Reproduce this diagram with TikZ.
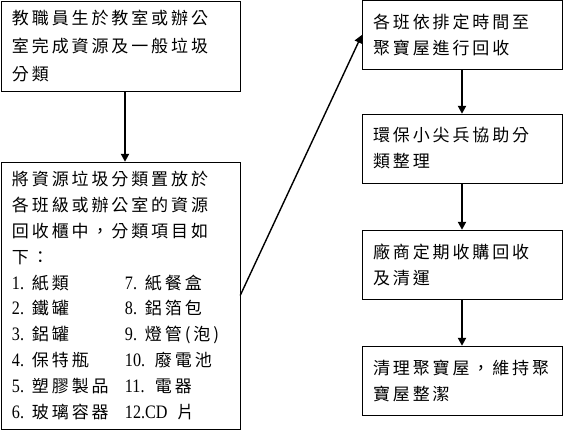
\documentclass[tikz,border=0pt]{standalone}
\usepackage{fontspec}
\setmainfont{Liberation Serif}
\newfontfamily\cjk{Noto Sans CJK TC}[LetterSpace=17]
\newfontfamily\digits{Liberation Serif}[FakeStretch=0.85]
\usetikzlibrary{arrows.meta}

\newcommand{\num}[2][20pt]{\makebox[#1][l]{\digits\fontsize{19}{25.8}\selectfont #2}}
\newcommand{\pair}[2]{\makebox[113pt][l]{#1}#2}

\begin{document}
\begin{tikzpicture}[x=1pt,y=-1pt,thick,
    box node/.style={draw,thin,rectangle,align=left,inner xsep=11pt,inner ysep=0pt,
        font=\cjk\fontsize{17}{27}\selectfont},
    left node/.style={box node,text width=217pt,minimum width=239pt},
    right node/.style={box node,text width=178pt,minimum width=200pt,minimum height=69pt,
        font=\cjk\fontsize{17}{26}\selectfont},
    flow/.style={-{Triangle[length=8pt,width=8pt]},line width=2pt}]
    \useasboundingbox (0,0) rectangle (565,433);

    \node[left node,minimum height=90pt,font=\cjk\fontsize{17}{28}\selectfont] at (120.5,46) (a)
        {教職員生於教室或辦公\\室完成資源及一般垃圾\\分類};
    \node[left node,minimum height=267pt,font=\cjk\fontsize{17}{25.8}\selectfont] at (120.5,295.5) (b)
        {將資源垃圾分類置放於\\各班級或辦公室的資源\\回收櫃中，分類項目如\\下：\\
         \pair{\num{1.}紙類}{\num{7.}紙餐盒}\\
         \pair{\num{2.}鐵罐}{\num{8.}鋁箔包}\\
         \pair{\num{3.}鋁罐}{\num{9.}燈管(泡)}\\
         \pair{\num{4.}保特瓶}{\num[30pt]{10.}廢電池}\\
         \pair{\num{5.}塑膠製品}{\num[30pt]{11.}電器}\\
         \pair{\num{6.}玻璃容器}{\num[52pt]{12.CD}片}};
    \node[right node] at (462,35) (c) {各班依排定時間至\\聚寶屋進行回收};
    \node[right node] at (462,148.5) (d) {環保小尖兵協助分\\類整理};
    \node[right node] at (462,264.5) (e) {廠商定期收購回收\\及清運};
    \node[right node] at (462,380.5) (f) {清理聚寶屋，維持聚\\寶屋整潔};

    \draw[flow] ([xshift=4.5pt]a.south) -- ([xshift=4.5pt]b.north);
    \draw[flow,line width=1.4pt] (b.east) -- (c.west);
    \draw[flow] (c) -- (d);
    \draw[flow] (d) -- (e);
    \draw[flow] (e) -- (f);
\end{tikzpicture}
\end{document}
